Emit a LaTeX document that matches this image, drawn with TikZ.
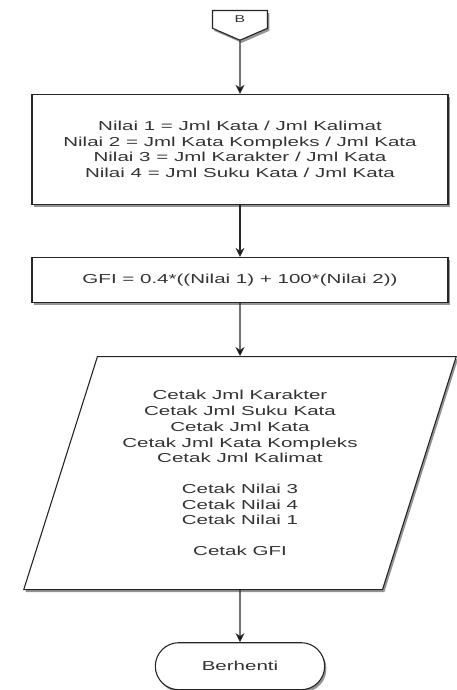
\documentclass[tikz,border=0pt]{standalone}
\usepackage{fontspec}
\setmainfont[FakeStretch=1.58]{Liberation Sans}
\usetikzlibrary{positioning,shapes.geometric,shapes.misc,shapes.symbols,shadows,arrows.meta}
\tikzset{
  fc/.style={draw=black!85, line width=1.1pt, fill=white, text=black!80, align=center,
    font=\fontsize{13}{15.7}\selectfont,
    drop shadow={shadow xshift=1.8pt, shadow yshift=-2.6pt, fill=black!60, opacity=0.7}},
  proses/.style={fc, rectangle, minimum width=416pt},
  offpage/.style={fc, signal, signal to=south, signal pointer angle=133,
    minimum width=55pt, minimum height=20pt, inner sep=0pt, font=\fontsize{10}{12}\selectfont},
  cetakbox/.style={fc, trapezium, trapezium left angle=70, trapezium right angle=110,
    trapezium stretches=true, minimum width=434pt, minimum height=233pt},
  terminal/.style={fc, rounded rectangle, minimum width=176pt, minimum height=47pt}
}
\begin{document}
\begin{tikzpicture}[x=1pt,y=1pt]
  \useasboundingbox (0,0) rectangle (456,690);
  \node[offpage, anchor=north] (b) at (240,680) {B};
  \node[proses, minimum height=110pt, below=53pt of b] (nilai)
    {Nilai 1 = Jml Kata / Jml Kalimat\\ Nilai 2 = Jml Kata Kompleks / Jml Kata\\
     Nilai 3 = Jml Karakter / Jml Kata\\ Nilai 4 = Jml Suku Kata / Jml Kata};
  \node[proses, minimum height=45pt, below=52pt of nilai] (gfi)
    {GFI = 0.4*((Nilai 1) + 100*(Nilai 2))};
  \node[cetakbox, below=53pt of gfi] (cetak)
    {Cetak Jml Karakter\\ Cetak Jml Suku Kata\\ Cetak Jml Kata\\
     Cetak Jml Kata Kompleks\\ Cetak Jml Kalimat\\[15pt]
     Cetak Nilai 3\\ Cetak Nilai 4\\ Cetak Nilai 1\\[15pt] Cetak GFI};
  \node[terminal, below=52pt of cetak] (stop) {Berhenti};
  \path[-{Stealth[length=9pt,width=9pt]}, line width=1.2pt, draw=black!85]
    (b) edge (nilai)
    (nilai) edge (gfi)
    (gfi) edge (cetak)
    (cetak) edge (stop);
\end{tikzpicture}
\end{document}
